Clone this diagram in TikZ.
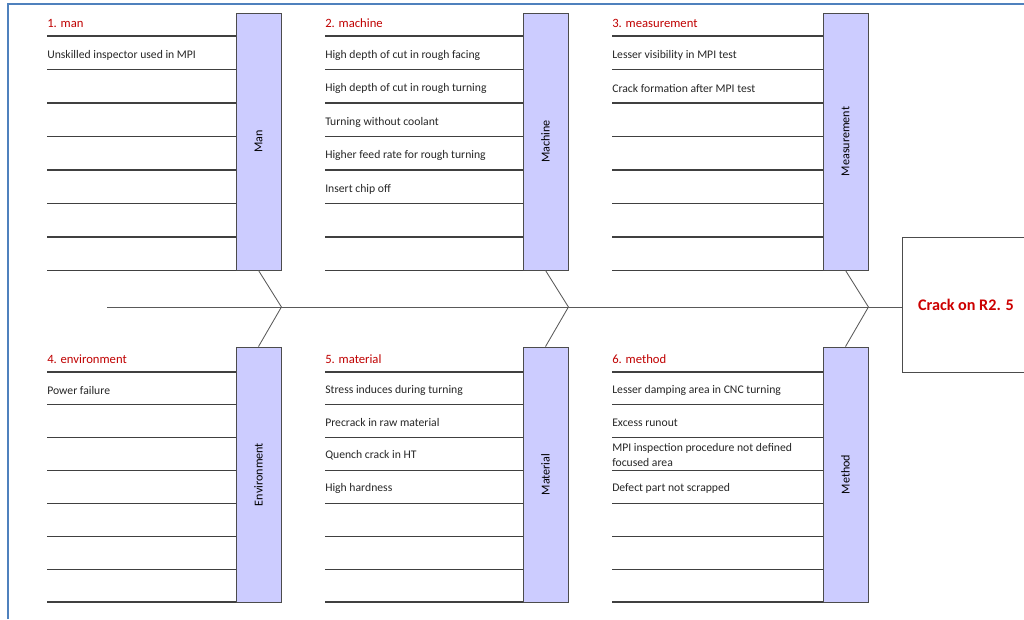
\documentclass[tikz,border=0pt]{standalone}
\usepackage{fontspec}
\setmainfont{Carlito}
\usepackage{graphicx}
\usepackage{xcolor}
\usepackage{tikz}

\definecolor{frameblue}{RGB}{79,129,189}

\begin{document}
\begin{tikzpicture}[x=0.025cm, y=-0.025cm,
  bone/.style = {draw=black!70, fill=blue!20, minimum width=1.125cm,
                 inner sep=0pt, line width=0.6pt,
                 font=\fontsize{8.6}{10}\selectfont},
  head/.style = {anchor=west, inner sep=0pt, text=red!75!black,
                 font=\fontsize{9}{10}\selectfont},
  item/.style = {anchor=west, inner sep=0pt, align=left, text=black!85,
                 font=\fontsize{8.3}{11}\selectfont},
  rule/.style = {draw=black!75, line width=0.8pt},
  rib/.style  = {draw=black!65, line width=0.6pt},
]

\clip (0,0) rectangle (1024,619);
\draw[frameblue, line width=1.5pt] (8,619) -- (8,4) -- (1024,4);

\node[draw=black!70, line width=0.6pt, minimum width=3.2cm,
      minimum height=3.375cm, text=red!80!black,
      font=\bfseries\fontsize{11.5}{13}\selectfont]
  (crack) at (966,304.5) {Crack on R2. 5};

\node[bone, minimum height=6.425cm] (man)     at (258.5,141.5) {\rotatebox{90}{Man}};
\node[bone, minimum height=6.425cm] (machine) at (545.5,141.5) {\rotatebox{90}{Machine}};
\node[bone, minimum height=6.425cm] (measure) at (845.5,141.5) {\rotatebox{90}{Measurement}};
\node[bone, minimum height=6.375cm] (env)     at (258.5,474.5) {\rotatebox{90}{Environment}};
\node[bone, minimum height=6.375cm] (mat)     at (545.5,474.5) {\rotatebox{90}{Material}};
\node[bone, minimum height=6.375cm] (method)  at (845.5,474.5) {\rotatebox{90}{Method}};

\coordinate (tail) at (107,307);
\draw[rib] (tail) -- (tail -| crack.west);
\draw[rib] (man.south) -- (man.east |- tail) -- (env.north);
\draw[rib] (machine.south) -- (machine.east |- tail) -- (mat.north);
\draw[rib] (measure.south) -- (measure.east |- tail) -- (method.north);

\foreach \y in {36,69.5,...,271} {
  \draw[rule] (47,\y) -- (man.west |- 0,\y);
  \draw[rule] (325,\y) -- (machine.west |- 0,\y);
  \draw[rule] (612,\y) -- (measure.west |- 0,\y);
}
\foreach \y in {372,404.86,...,603} {
  \draw[rule] (47,\y) -- (env.west |- 0,\y);
  \draw[rule] (325,\y) -- (mat.west |- 0,\y);
  \draw[rule] (612,\y) -- (method.west |- 0,\y);
}

\node[head] (man0) at (47,23.5) {1. man};
\node[item] (man1) at (47,55) {Unskilled inspector used in MPI};

\node[head] (mach0) at (325,23.5) {2. machine};
\node[item] (mach1) at (325,55) {High depth of cut in rough facing};
\node[item] (mach2) at (325,88.5) {High depth of cut in rough turning};
\node[item] (mach3) at (325,122) {Turning without coolant};
\node[item] (mach4) at (325,155.5) {Higher feed rate for rough turning};
\node[item] (mach5) at (325,189) {Insert chip off};

\node[head] (meas0) at (612,23.5) {3. measurement};
\node[item] (meas1) at (612,55) {Lesser visibility in MPI test};
\node[item] (meas2) at (612,88.5) {Crack formation after MPI test};

\node[head] (env0) at (47,359) {4. environment};
\node[item] (env1) at (47,390) {Power failure};

\node[head] (mat0) at (325,359) {5. material};
\node[item] (mat1) at (325,390) {Stress induces during turning};
\node[item] (mat2) at (325,422.7) {Precrack in raw material};
\node[item] (mat3) at (325,455.6) {Quench crack in HT};
\node[item] (mat4) at (325,488.4) {High hardness};

\node[head] (meth0) at (612,359) {6. method};
\node[item] (meth1) at (612,390) {Lesser damping area in CNC turning};
\node[item] (meth2) at (612,422.7) {Excess runout};
\node[item] (meth3) at (612,455) {MPI inspection procedure not defined\\focused area};
\node[item] (meth4) at (612,488.4) {Defect part not scrapped};

\end{tikzpicture}
\end{document}
